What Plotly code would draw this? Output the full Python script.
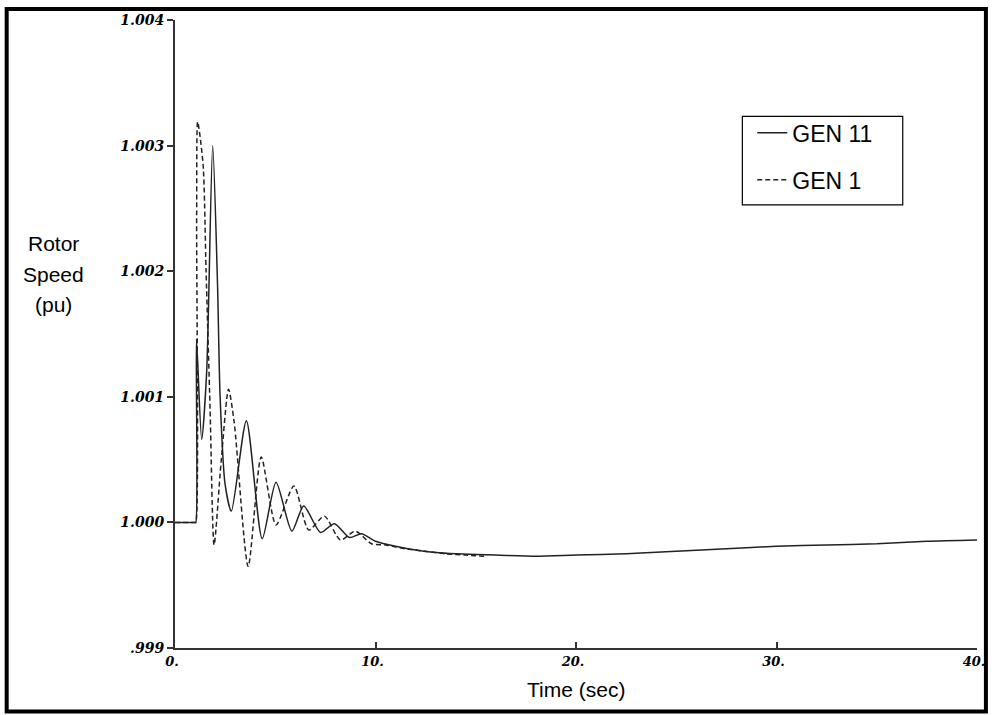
import plotly.graph_objects as go

# ---- data ----
t_gen11 = [0, 1.00, 1.04, 1.07, 1.33, 1.58, 1.88, 2.12, 2.25, 2.50, 2.81, 3.56, 4.35,
           5.04, 5.83, 6.42, 7.26, 7.95, 8.70, 9.30, 10.0, 11.0, 12.0, 13.0, 14.0,
           16.0, 18.0, 20.0, 22.5, 25.0, 27.5, 30.0, 32.5, 35.0, 37.5, 40.0]
v_gen11 = [1.0, 1.0, 1.0, 1.00146, 1.00066, 1.00120, 1.00300, 1.00190, 1.00100, 1.00030,
           1.00009, 1.00081, 0.99987, 1.00032, 0.99993, 1.00013, 0.99992, 0.99999,
           0.99988, 0.99991, 0.99985, 0.99981, 0.99978, 0.99976, 0.99975, 0.99974,
           0.99973, 0.99974, 0.99975, 0.99977, 0.99979, 0.99981, 0.99982, 0.99983,
           0.99985, 0.99986]

t_gen1 = [0, 1.00, 1.04, 1.08, 1.13, 1.40, 1.55, 1.75, 1.95, 2.30, 2.67, 2.95, 3.65,
          4.30, 5.04, 5.93, 6.67, 7.45, 8.25, 9.00, 9.80, 10.5, 11.5, 12.5, 13.5,
          14.5, 15.5]
v_gen1 = [1.0, 1.0, 1.0, 1.00246, 1.00319, 1.00285, 1.00200, 1.00090, 0.99982,
          1.00048, 1.00106, 1.00080, 0.99965, 1.00052, 0.99998, 1.00029, 0.99994,
          1.00005, 0.99986, 0.99993, 0.99983, 0.99982, 0.99979, 0.99977, 0.99975,
          0.99974, 0.99973]

y_tickvals = [0.999, 1.000, 1.001, 1.002, 1.003, 1.004]
y_ticktext = [".999", "1.000", "1.001", "1.002", "1.003", "1.004"]
x_tickvals = [0, 10, 20, 30, 40]
x_ticktext = ["0.", "10.", "20.", "30.", "40."]

W, H = 997, 715
L, R, T, B = 175, 12, 16, 67
PW, PH = W - L - R, H - T - B

def px(x):
    return (x - L) / PW

def py(y):
    return (H - B - y) / PH

fig = go.Figure()
fig.add_trace(go.Scatter(x=t_gen11, y=v_gen11, mode="lines", name="GEN 11",
                         legendgroup="a",
                         line=dict(color="#222222", width=1.5, shape="spline",
                                   smoothing=0.7)))
fig.add_trace(go.Scatter(x=t_gen1, y=v_gen1, mode="lines", name="GEN 1",
                         legendgroup="b",
                         line=dict(color="#222222", width=1.5, dash="5px,3px",
                                   shape="spline", smoothing=0.7)))

ytick_font = dict(family="DejaVu Serif", size=14, color="black",
                  weight="bold", style="italic")
xtick_font = dict(family="DejaVu Serif", size=13, color="black",
                  weight="bold", style="italic")
label_font = dict(family="Liberation Sans", size=21, color="black")

fig.update_layout(
    width=W, height=H, autosize=False,
    margin=dict(l=L, r=R, t=T, b=B),
    paper_bgcolor="white", plot_bgcolor="white",
    showlegend=True,
    legend=dict(x=px(758), y=py(108), xanchor="left", yanchor="top",
                borderwidth=0, bgcolor="rgba(0,0,0,0)",
                font=dict(family="Liberation Sans", size=23, color="black"),
                traceorder="grouped", tracegroupgap=14, itemwidth=30),
    xaxis=dict(range=[0, 40], tickvals=x_tickvals, ticktext=x_ticktext,
               ticks="inside", ticklen=6, tickwidth=2, tickcolor="#333333",
               showline=True, linewidth=2, linecolor="#333333",
               showgrid=False, zeroline=False, tickfont=xtick_font,
               ticklabelshift=-3),
    yaxis=dict(range=[0.999, 1.004], tickvals=y_tickvals, ticktext=y_ticktext,
               ticks="outside", ticklen=6, tickwidth=2, tickcolor="#333333",
               showline=True, linewidth=2, linecolor="#333333",
               showgrid=False, zeroline=False, tickfont=ytick_font),
    shapes=[
        dict(type="rect", xref="paper", yref="paper",
             x0=px(5), x1=px(994), y0=py(712), y1=py(5),
             line=dict(color="black", width=4), fillcolor="rgba(0,0,0,0)"),
        dict(type="rect", xref="paper", yref="paper",
             x0=px(748), x1=px(910), y0=py(202), y1=py(113),
             line=dict(color="black", width=1.2), fillcolor="rgba(0,0,0,0)"),
    ],
    annotations=[
        dict(text="Time (sec)", xref="paper", yref="paper", x=px(580), y=py(690),
             showarrow=False, xanchor="center", yanchor="middle", font=label_font),
        dict(text="Rotor", xref="paper", yref="paper", x=px(52), y=py(241),
             showarrow=False, xanchor="center", yanchor="middle", font=label_font),
        dict(text="Speed", xref="paper", yref="paper", x=px(52), y=py(272),
             showarrow=False, xanchor="center", yanchor="middle", font=label_font),
        dict(text="(pu)", xref="paper", yref="paper", x=px(52), y=py(302),
             showarrow=False, xanchor="center", yanchor="middle", font=label_font),
    ],
)

fig.write_html(
    "out.html",
    config={"responsive": False, "displayModeBar": False},
    post_script=(
        "document.body.style.margin='0px';"
        "document.body.style.overflow='hidden';"
        "document.documentElement.style.overflow='hidden';"
    ),
)
